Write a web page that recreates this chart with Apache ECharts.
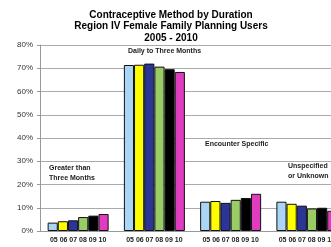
<!DOCTYPE html>
<html>
<head>
<meta charset="utf-8">
<script src="https://cdn.jsdelivr.net/npm/echarts@6/dist/echarts.min.js"></script>
<style>
  html, body { margin: 0; padding: 0; background: #fff; }
  #chart { width: 331px; height: 247px; }
</style>
</head>
<body>
<div id="chart"></div>
<script>
// groups of duration, each bar is one year 2005..2010
var groups = ['Greater than Three Months', 'Daily to Three Months', 'Encounter Specific', 'Unspecified or Unknown'];
var years = ['05', '06', '07', '08', '09', '10'];
var yearColors = ['#abd5f7', '#ffff00', '#2b3595', '#99cc66', '#000000', '#e03cc0'];
// percent of users, one array per year
var y05 = [3.6, 71.4, 12.6, 12.6];
var y06 = [4.2, 71.5, 12.9, 11.7];
var y07 = [4.6, 72.0, 12.1, 10.9];
var y08 = [6.0, 70.7, 13.4, 9.7];
var y09 = [6.6, 69.6, 14.2, 10.0];
var y10 = [7.3, 68.4, 16.0, 8.7];
var yearData = [y05, y06, y07, y08, y09, y10];
var yTicks = [0, 10, 20, 30, 40, 50, 60, 70, 80];

var myChart = echarts.init(document.getElementById('chart'));

var series = years.map(function (yr, i) {
  return {
    name: yr,
    type: 'bar',
    barGap: '0%',
    barCategoryGap: '20%',
    itemStyle: {
      color: yearColors[i],
      borderColor: '#111',
      borderWidth: 1
    },
    data: yearData[i]
  };
});

var lbl = { fontFamily: 'Liberation Sans', fontWeight: 'bold', fontSize: 7, fill: '#222' };

var option = {
  animation: false,
  title: {
    text: 'Contraceptive Method by Duration\nRegion IV Female Family Planning Users\n2005 - 2010',
    left: 166,
    textAlign: 'center',
    top: 4,
    textStyle: {
      fontFamily: 'Liberation Sans',
      fontWeight: 'bold',
      fontSize: 10,
      lineHeight: 11.5,
      color: '#000'
    }
  },
  // the last group runs past the right edge of the picture
  grid: { left: 40, width: 305, top: 45, bottom: 16, outerBoundsMode: 'none' },
  xAxis: {
    type: 'category',
    data: groups,
    axisTick: { show: false },
    axisLine: { lineStyle: { color: '#999' } },
    axisLabel: {
      interval: 0,
      formatter: function () { return years.join(' '); },
      fontFamily: 'Liberation Sans',
      fontWeight: 'bold',
      fontSize: 7,
      color: '#222',
      margin: 6
    }
  },
  yAxis: {
    type: 'value',
    min: yTicks[0],
    max: yTicks[yTicks.length - 1],
    interval: 10,
    axisLine: { show: true, lineStyle: { color: '#999' } },
    axisTick: { show: true, inside: false, length: 3, lineStyle: { color: '#999' } },
    splitLine: { lineStyle: { color: '#aaa' } },
    axisLabel: {
      formatter: '{value}%',
      fontFamily: 'Liberation Sans',
      fontSize: 8,
      color: '#333',
      margin: 7
    }
  },
  series: series,
  graphic: [
    { type: 'text', left: 49, top: 163, style: Object.assign({ text: 'Greater than\nThree Months', lineHeight: 10 }, lbl) },
    { type: 'text', left: 128, top: 48, style: Object.assign({ text: 'Daily to Three Months' }, lbl) },
    { type: 'text', left: 205, top: 141, style: Object.assign({ text: 'Encounter Specific' }, lbl) },
    { type: 'text', left: 288, top: 161, style: Object.assign({ text: 'Unspecified\nor Unknown', lineHeight: 10 }, lbl) }
  ]
};

myChart.setOption(option);
</script>
</body>
</html>
